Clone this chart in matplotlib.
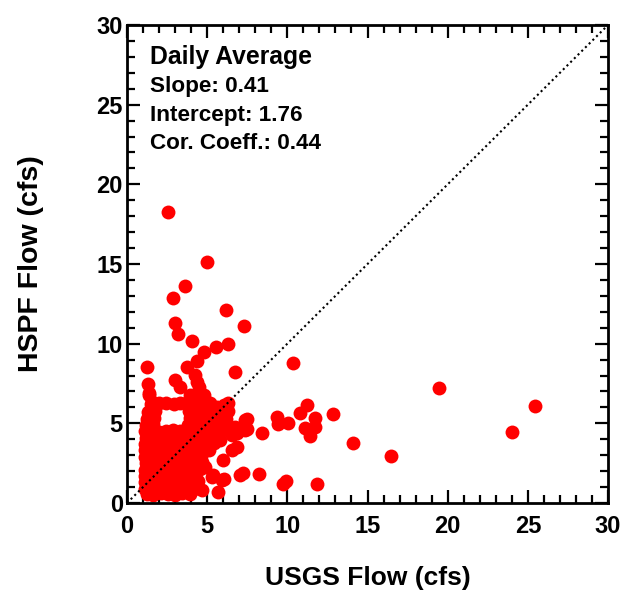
import matplotlib
matplotlib.use("Agg")
import matplotlib.pyplot as plt
from matplotlib.ticker import MultipleLocator

plt.rcParams['font.family'] = ['Liberation Sans', 'DejaVu Sans']
plt.rcParams['font.weight'] = 'bold'

# dense cluster, read row by row (USGS, HSPF)
core_usgs = [
    1.25, 1.65, 2.1, 2.55, 3.0, 3.45, 3.9,
    1.15, 1.55, 2.0, 2.4, 2.85, 3.3, 3.7, 4.15,
    1.1, 1.5, 1.95, 2.4, 2.8, 3.25, 3.7, 4.1, 4.45,
    1.15, 1.6, 2.05, 2.45, 2.9, 3.35, 3.8, 4.25,
    1.1, 1.5, 1.9, 2.35, 2.8, 3.2, 3.65, 4.1, 4.55,
    1.2, 1.6, 2.05, 2.5, 2.9, 3.35, 3.8, 4.25, 4.7,
    1.1, 1.55, 1.95, 2.4, 2.85, 3.3, 3.7, 4.15, 4.6,
    1.15, 1.6, 2.05, 2.5, 2.95, 3.4, 3.8, 4.25, 4.7, 5.1,
    1.1, 1.5, 1.95, 2.4, 2.8, 3.25, 3.7, 4.1, 4.55, 5.0, 5.4,
    1.2, 1.6, 2.05, 2.5, 2.9, 3.35, 3.8, 4.2, 4.65, 5.1, 5.5,
    1.1, 1.55, 2.0, 2.4, 2.85, 3.3, 3.7, 4.15, 4.6, 5.05, 5.5, 5.9,
    1.2, 1.6, 3.8, 4.25, 4.7, 5.1, 5.5, 5.95,
    1.25, 1.7, 3.95, 4.4, 4.8, 5.25, 5.7, 6.1,
    1.3, 1.75, 3.85, 4.3, 4.75, 5.2, 5.6, 6.05,
    1.5, 2.0, 2.45, 2.9, 3.3, 3.65, 4.1, 4.5, 5.6,
    1.4, 3.9, 4.3,
]
core_hspf = [
    0.55, 0.5, 0.6, 0.55, 0.5, 0.6, 0.55,
    0.9, 0.95, 0.85, 0.9, 0.95, 0.9, 0.85, 0.9,
    1.3, 1.35, 1.25, 1.3, 1.35, 1.3, 1.25, 1.3, 1.35,
    1.7, 1.75, 1.7, 1.65, 1.7, 1.75, 1.7, 1.65,
    2.1, 2.15, 2.05, 2.1, 2.15, 2.1, 2.05, 2.1, 2.15,
    2.5, 2.55, 2.5, 2.45, 2.5, 2.55, 2.5, 2.45, 2.55,
    2.9, 2.95, 2.85, 2.9, 2.95, 2.9, 2.85, 2.9, 2.95,
    3.3, 3.35, 3.25, 3.3, 3.35, 3.3, 3.25, 3.3, 3.35, 3.3,
    3.7, 3.75, 3.65, 3.7, 3.75, 3.7, 3.65, 3.7, 3.75, 3.7, 3.75,
    4.1, 4.15, 4.05, 4.1, 4.15, 4.1, 4.05, 4.1, 4.15, 4.1, 4.15,
    4.5, 4.55, 4.45, 4.5, 4.55, 4.5, 4.45, 4.5, 4.55, 4.5, 4.55, 4.6,
    4.9, 4.95, 4.9, 4.95, 4.9, 4.95, 4.9, 5.0,
    5.3, 5.35, 5.35, 5.3, 5.35, 5.3, 5.35, 5.4,
    5.7, 5.75, 5.8, 5.75, 5.7, 5.75, 5.8, 5.8,
    6.2, 6.25, 6.3, 6.2, 6.25, 6.3, 6.2, 6.25, 6.0,
    6.75, 6.8, 6.7,
]

# scattered points around and outside the cluster
outer_usgs = [
    2.58, 4.97, 3.62, 2.85, 6.16, 7.32, 2.99, 3.16, 4.03, 5.55, 6.3, 4.8,
    4.35, 1.23, 3.76, 6.74, 10.34, 1.33, 2.99, 3.31, 4.24, 4.35, 4.47,
    1.35, 1.56, 4.78, 5.2, 6.03, 6.32, 7.47, 7.47, 8.4, 9.34, 9.44,
    10.06, 10.79, 11.21, 11.73, 11.73, 11.1, 11.42, 12.87, 14.1, 16.47,
    19.46, 24.02, 25.45, 7.36, 7.36, 6.0, 6.05, 5.9, 5.28, 5.35, 4.87,
    4.66, 5.7, 7.05, 7.26, 8.23, 9.75, 9.9, 11.83, 5.8, 6.53, 6.53,
    6.84, 6.74, 6.84, 5.5, 5.9, 6.2, 6.3,
]
outer_hspf = [
    18.29, 15.15, 13.62, 12.85, 12.12, 11.13, 11.28, 10.61, 10.17, 9.81,
    9.96, 9.48, 8.93, 8.56, 8.52, 8.24, 8.81, 7.47, 7.72, 7.30, 8.04,
    7.61, 7.3, 6.89, 6.36, 6.78, 6.26, 6.15, 6.26, 5.25, 4.63, 4.41,
    5.38, 4.96, 5.0, 5.67, 6.15, 5.32, 4.79, 4.69, 4.2, 5.59, 3.79, 2.97,
    7.22, 4.44, 6.09, 5.21, 4.58, 2.7, 1.51, 1.44, 1.65, 1.76, 2.24,
    0.82, 0.71, 1.76, 1.9, 1.82, 1.19, 1.4, 1.19, 3.95, 3.33, 4.27,
    4.38, 4.79, 3.53, 4.6, 4.9, 5.3, 5.8,
]

stats_lines = ["Slope: 0.41", "Intercept: 1.76", "Cor. Coeff.: 0.44"]

fig = plt.figure(figsize=(6.27, 5.9), dpi=100)
ax = fig.add_axes([0.2026, 0.1475, 0.7671, 0.8101])

ax.scatter(core_usgs, core_hspf, s=100, color='red', linewidths=0, zorder=2)
ax.scatter(outer_usgs, outer_hspf, s=100, color='red', linewidths=0, zorder=2)

# 1:1 line
ax.plot([0, 30], [0, 30], color='black', linestyle=(0, (1, 1.5)), linewidth=1.5, zorder=3)

ax.set_xlim(0, 30)
ax.set_ylim(0, 30)
ax.xaxis.set_major_locator(MultipleLocator(5))
ax.yaxis.set_major_locator(MultipleLocator(5))
ax.xaxis.set_minor_locator(MultipleLocator(1))
ax.yaxis.set_minor_locator(MultipleLocator(1))
ax.tick_params(which='both', direction='in', top=True, right=True, width=1.6,
               labelsize=17)
ax.tick_params(axis='x', pad=9)
ax.tick_params(axis='y', pad=3)
ax.tick_params(which='major', length=9.5)
ax.tick_params(which='minor', length=5.5)
for sp in ax.spines.values():
    sp.set_linewidth(2)

ax.set_xlabel('USGS Flow (cfs)', fontsize=19, fontweight='bold', labelpad=20)
ax.set_ylabel('HSPF Flow (cfs)', fontsize=20.5, fontweight='bold', labelpad=38)

ax.text(1.45, 28.0, "Daily Average", fontsize=17.8, fontweight='bold', va='center')
for i, line in enumerate(stats_lines):
    ax.text(1.45, 26.15 - i * 1.8, line, fontsize=16.2, fontweight='bold', va='center')

fig.savefig('out.png', dpi=100)
